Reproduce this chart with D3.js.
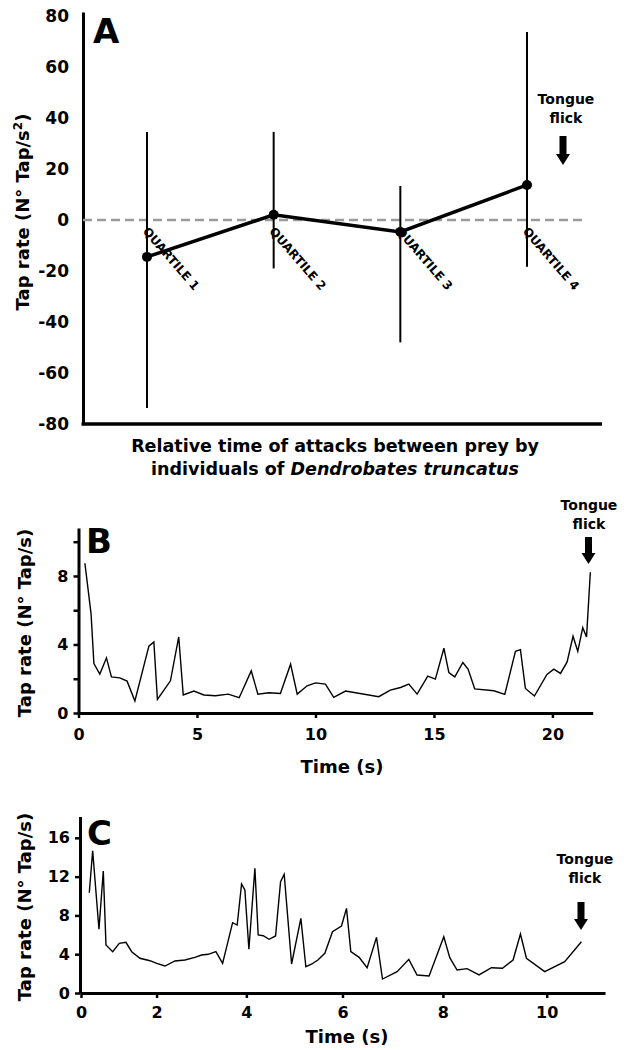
<!DOCTYPE html>
<html>
<head>
<meta charset="utf-8">
<script src="https://cdn.jsdelivr.net/npm/d3@7"></script>
<style>
  body { margin: 0; background: #fff; }
  text { font-family: "DejaVu Sans", sans-serif; font-weight: bold; fill: #000; }
</style>
</head>
<body>
<div class="chart"></div>
<script>
// ---- panel A: tap rate per quartile (mean and range)
const quartiles = ["QUARTILE 1", "QUARTILE 2", "QUARTILE 3", "QUARTILE 4"];
const meanA = [-14.5, 2, -4.7, 13.7];
const upperA = [34.5, 34.5, 13.3, 73.7];
const lowerA = [-73.7, -19, -48, -18.4];
const ticksA = [-80, -60, -40, -20, 0, 20, 40, 60, 80];

// ---- panel B: tap rate over time, one individual
const timeB = [0.27, 0.53, 0.65, 0.90, 1.18, 1.39, 1.74, 2.05, 2.38, 2.97, 3.18, 3.33, 3.88, 4.23, 4.42,
  4.87, 5.29, 5.78, 6.32, 6.78, 7.29, 7.57, 8.03, 8.52, 8.95, 9.23, 9.65, 10.0, 10.42, 10.77, 11.27,
  12.67, 13.16, 13.59, 13.94, 14.29, 14.74, 15.06, 15.42, 15.63, 15.88, 16.22, 16.44, 16.72, 17.53,
  17.99, 18.44, 18.65, 18.86, 19.24, 19.77, 20.06, 20.34, 20.62, 20.87, 21.07, 21.28, 21.44, 21.60];
const rateB = [8.74, 5.79, 2.89, 2.27, 3.22, 2.11, 2.05, 1.86, 0.70, 3.90, 4.15, 0.79, 1.88, 4.44, 1.05,
  1.28, 1.05, 1.01, 1.10, 0.89, 2.46, 1.10, 1.18, 1.14, 2.85, 1.10, 1.59, 1.76, 1.69, 0.91, 1.28,
  0.95, 1.34, 1.49, 1.69, 1.10, 2.15, 1.98, 3.78, 2.36, 2.11, 2.95, 2.56, 1.41, 1.30,
  1.09, 3.60, 3.70, 1.43, 0.99, 2.25, 2.56, 2.31, 2.98, 4.48, 3.60, 4.98, 4.44, 8.22];
const xTicksB = [0, 5, 10, 15, 20];
const yTicksB = [0, 2, 4, 6, 8, 10];

// ---- panel C: tap rate over time, another individual
const timeC = [0.283, 0.383, 0.561, 0.679, 0.751, 0.927, 1.096, 1.263, 1.405, 1.606, 1.845, 2.003, 2.196,
  2.425, 2.652, 2.876, 3.025, 3.171, 3.340, 3.487, 3.704, 3.803, 3.897, 3.968, 4.054, 4.182, 4.252,
  4.358, 4.484, 4.619, 4.724, 4.800, 4.954, 5.147, 5.250, 5.374, 5.498, 5.640, 5.797, 5.980, 6.082,
  6.169, 6.337, 6.498, 6.686, 6.806, 7.097, 7.329, 7.492, 7.729, 8.017, 8.134, 8.276, 8.470, 8.703,
  8.942, 9.154, 9.358, 9.499, 9.614, 9.962, 10.341, 10.657];
const rateC = [10.34, 14.67, 6.57, 12.58, 4.95, 4.26, 5.12, 5.23, 4.26, 3.58, 3.33, 3.06, 2.78,
  3.30, 3.40, 3.68, 3.92, 3.99, 4.26, 3.06, 7.25, 7.01, 11.24, 10.62, 4.51, 12.86, 5.98,
  5.91, 5.54, 5.88, 11.47, 12.24, 2.99, 7.70, 2.71, 2.99, 3.40, 4.09, 6.32, 6.91, 8.73,
  4.26, 3.68, 2.61, 5.74, 1.44, 2.20, 3.47, 1.86, 1.75, 5.80, 3.64, 2.37, 2.51, 1.86,
  2.61, 2.55, 3.40, 6.08, 3.58, 2.20, 3.23, 5.29];
const xTicksC = [0, 2, 4, 6, 8, 10];
const yTicksC = [0, 4, 8, 12, 16];

const svg = d3.select('.chart')
  .append('svg')
  .attr('width', 624)
  .attr('height', 1050);

// thick axis lines like the figure
function styleAxis(g, size) {
  g.select('.domain').attr('stroke-width', 3);
  g.selectAll('.tick line').attr('stroke-width', 2.5);
  g.selectAll('text').style('font-size', size + 'px');
}

// "Tongue flick" note with a down arrow
function flick(cx, yText, ax, yTop, yBot) {
  const g = svg.append('g');
  g.append('text').attr('x', cx).attr('y', yText).attr('text-anchor', 'middle')
    .style('font-size', '14px').text('Tongue');
  g.append('text').attr('x', cx).attr('y', yText + 19).attr('text-anchor', 'middle')
    .style('font-size', '14px').text('flick');
  g.append('rect').attr('x', ax - 3.5).attr('y', yTop).attr('width', 7).attr('height', yBot - yTop - 10);
  g.append('path').attr('d', `M${ax - 7},${yBot - 11} L${ax + 7},${yBot - 11} L${ax},${yBot} Z`);
}

function panelLetter(t, x, y) {
  svg.append('text').attr('x', x).attr('y', y).style('font-size', '34px').text(t);
}

// ================= A =================
const yA = d3.scaleLinear().domain([-80, 81.5]).range([424, 12]);
const xA = d3.scalePoint().domain(quartiles).range([147, 527]);
const leftA = 83, rightA = 602;

svg.append('g')
  .attr('transform', `translate(${leftA},0)`)
  .call(d3.axisLeft(yA).tickValues(ticksA).tickSize(0).tickPadding(14).tickFormat(d => String(d)))
  .call(g => styleAxis(g, 17));

svg.append('line')
  .attr('x1', leftA - 1.5).attr('x2', rightA)
  .attr('y1', yA(-80)).attr('y2', yA(-80))
  .attr('stroke', '#000').attr('stroke-width', 3.5);

svg.append('line')
  .attr('x1', leftA).attr('x2', 583)
  .attr('y1', yA(0)).attr('y2', yA(0))
  .attr('stroke', '#9a9a9a').attr('stroke-width', 2.5).attr('stroke-dasharray', '9,5');

const rowsA = quartiles.map((q, i) => ({ q, m: meanA[i], hi: upperA[i], lo: lowerA[i] }));

svg.selectAll('.err')
  .data(rowsA)
  .enter()
  .append('line')
  .attr('class', 'err')
  .attr('x1', d => xA(d.q)).attr('x2', d => xA(d.q))
  .attr('y1', d => yA(d.hi)).attr('y2', d => yA(d.lo))
  .attr('stroke', '#000').attr('stroke-width', 2);

svg.append('path')
  .datum(rowsA)
  .attr('fill', 'none').attr('stroke', '#000').attr('stroke-width', 3.5)
  .attr('d', d3.line().x(d => xA(d.q)).y(d => yA(d.m)));

svg.selectAll('.dot')
  .data(rowsA)
  .enter()
  .append('circle')
  .attr('cx', d => xA(d.q)).attr('cy', d => yA(d.m)).attr('r', 5);

svg.selectAll('.qlab')
  .data(rowsA)
  .enter()
  .append('text')
  .attr('transform', d => `translate(${xA(d.q) + 2},${yA(0) + 6}) rotate(49)`)
  .attr('dy', '0.75em')
  .style('font-size', '12px')
  .text(d => d.q);

panelLetter('A', 93, 43);

svg.append('text')
  .attr('transform', 'translate(29,212) rotate(-90)')
  .attr('text-anchor', 'middle')
  .style('font-size', '18px')
  .call(t => {
    t.append('tspan').text('Tap rate (N° Tap/s');
    t.append('tspan').attr('baseline-shift', 'super').style('font-size', '12px').text('2');
    t.append('tspan').text(')');
  });

svg.append('text').attr('x', 335).attr('y', 452).attr('text-anchor', 'middle')
  .style('font-size', '17.5px').text('Relative time of attacks between prey by');
svg.append('text').attr('x', 335).attr('y', 475).attr('text-anchor', 'middle')
  .style('font-size', '17.5px')
  .call(t => {
    t.append('tspan').text('individuals of ');
    t.append('tspan').style('font-style', 'italic').text('Dendrobates truncatus');
  });

flick(566, 104, 563, 136, 165);

// ================= B =================
const xB = d3.scaleLinear().domain([0, 21.7]).range([78.5, 592.7]);
const yB = d3.scaleLinear().domain([0, 10.8]).range([713, 528]);

svg.append('g')
  .attr('transform', `translate(0,${yB(0)})`)
  .call(d3.axisBottom(xB).tickValues(xTicksB).tickSize(5).tickSizeOuter(0).tickPadding(11))
  .call(g => styleAxis(g, 16));

svg.append('g')
  .attr('transform', `translate(${xB(0)},0)`)
  .call(d3.axisLeft(yB).tickValues(yTicksB).tickSize(5).tickSizeOuter(0).tickPadding(5)
    .tickFormat(d => d % 4 === 0 ? String(d) : ''))
  .call(g => styleAxis(g, 16));

svg.append('path')
  .datum(timeB.map((t, i) => [t, rateB[i]]))
  .attr('fill', 'none').attr('stroke', '#000').attr('stroke-width', 1.4)
  .attr('d', d3.line().x(d => xB(d[0])).y(d => yB(d[1])));

panelLetter('B', 86, 553);

svg.append('text')
  .attr('transform', 'translate(31,623) rotate(-90)')
  .attr('text-anchor', 'middle')
  .style('font-size', '18px')
  .text('Tap rate (N° Tap/s)');

svg.append('text').attr('x', 342).attr('y', 773).attr('text-anchor', 'middle')
  .style('font-size', '18px').text('Time (s)');

flick(589, 510, 588.5, 537, 564);

// ================= C =================
// the time axis of this panel is drawn slightly stretched towards the right
const xC = d3.scalePow().exponent(1.13).domain([0, 11.1]).range([81, 605]);
const yC = d3.scaleLinear().domain([0, 18.2]).range([993, 816.5]);

svg.append('g')
  .attr('transform', `translate(0,${yC(0)})`)
  .call(d3.axisBottom(xC).tickValues(xTicksC).tickSize(5).tickSizeOuter(0).tickPadding(9))
  .call(g => styleAxis(g, 16));

svg.append('g')
  .attr('transform', `translate(80,0)`)
  .call(d3.axisLeft(yC).tickValues(yTicksC).tickSize(5).tickSizeOuter(0).tickPadding(5))
  .call(g => styleAxis(g, 16));

svg.append('path')
  .datum(timeC.map((t, i) => [t, rateC[i]]))
  .attr('fill', 'none').attr('stroke', '#000').attr('stroke-width', 1.4)
  .attr('d', d3.line().x(d => xC(d[0])).y(d => yC(d[1])));

panelLetter('C', 87, 845);

svg.append('text')
  .attr('transform', 'translate(31,907) rotate(-90)')
  .attr('text-anchor', 'middle')
  .style('font-size', '18px')
  .text('Tap rate (N° Tap/s)');

svg.append('text').attr('x', 347).attr('y', 1043).attr('text-anchor', 'middle')
  .style('font-size', '18px').text('Time (s)');

flick(585, 864, 581, 902, 930);
</script>
</body>
</html>
